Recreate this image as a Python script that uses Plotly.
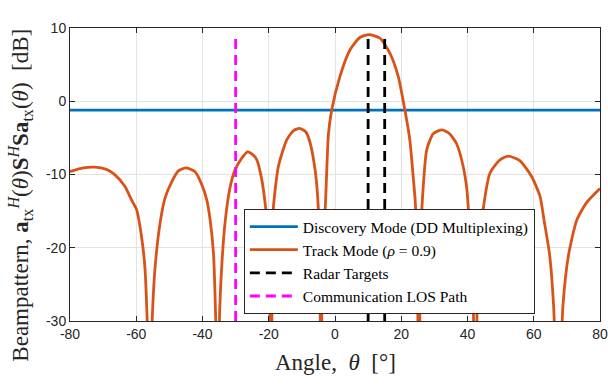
import plotly.graph_objects as go

# ---------------- data ----------------
discovery_angle = [-80, 80]
discovery_db = [-1.2, -1.2]

track_angle = [-80, -76, -72.5, -69, -66.4, -63.4, -61.4, -59.9, -58.4, -57.4, -56.7, -56.0, -55.2,
               -54.3, -52.8, -51.3, -49.3, -47.3, -45.0, -42.3, -40.2, -38.7, -37.7, -36.7, -36.0,
               -35.4, -34.9, -34.2, -33.2, -31.7, -30.2, -28.2, -26.4, -24.8, -23.6, -22.1, -21.1,
               -20.4, -19.8, -19.3, -18.9, -18.6, -17.1, -14.6, -12.5, -10.7, -8.8, -7.5, -6.0,
               -5.3, -4.7, -4.2, -3.7, -3.0, -2.0, -1.0, 1.5, 4.5, 7.5, 10.2, 13.6, 16.6, 19.1,
               21.1, 22.6, 23.6, 24.2, 24.8, 25.3, 25.8, 26.2, 27.7, 29.7, 32.3, 34.5, 36.7, 38.7,
               39.8, 40.5, 41.5, 42.3, 43.2, 44.3, 46.8, 49.8, 52.3, 55.8, 59.4, 61.9, 63.1, 64.8,
               66.0, 67.4, 68.8, 70.5, 73.0, 76.0, 80]
track_db = [-9.6, -9.1, -9.0, -9.3, -10.05, -11.65, -13.5, -14.8, -18.5, -22.6, -30, -45, -30,
            -22.6, -16.6, -13.2, -11.0, -9.5, -9.1, -9.6, -11.4, -13.5, -16.2, -20.7, -30,
            -45, -30, -22.6, -16.6, -11.8, -9.4, -7.8, -6.9, -7.3, -8.0, -10.7, -13.9,
            -17.1, -22, -45, -20, -14.5, -8.9, -5.3, -4.0, -3.7, -4.2, -5.7, -9.4,
            -12.6, -18, -45, -18, -15, -4.6, -1.2, 3.4, 7.0, 8.7, 9.1, 8.6, 6.55, 3.36,
            -1.2, -5.3, -10.3, -13.5, -20, -45, -20, -14.8, -6.6, -4.4, -3.9, -4.4, -5.8, -8.9,
            -12.0, -16.2, -22, -45, -22, -16.2, -9.8, -8.0, -7.5, -8.1, -10.3, -13.0, -16.2, -21,
            -28, -45, -28, -21, -16.2, -13.8, -11.9]

target_angles = [10, 15]
los_angle = -30
marker_line_bottom = -30
marker_line_top = 8.6

x_ticks = [-80, -60, -40, -20, 0, 20, 40, 60, 80]
y_ticks = [-30, -20, -10, 0, 10]

# ---------------- styling ----------------
BLUE = "#0072BD"
ORANGE = "#D95319"
MAGENTA = "#FF00FF"
AX = "#262626"
GRID = "#e3e3e3"
SERIF = "Liberation Serif, Times New Roman, serif"
SANS = "Liberation Sans, Arial, sans-serif"
LW = 2.8
NB = "\u00a0"

fig = go.Figure()

fig.add_trace(go.Scatter(x=discovery_angle, y=discovery_db, mode="lines",
                         line=dict(color=BLUE, width=LW),
                         name="Discovery Mode (DD Multiplexing)"))
fig.add_trace(go.Scatter(x=track_angle, y=track_db, mode="lines",
                         line=dict(color=ORANGE, width=LW, shape="spline", smoothing=0.6),
                         name="Track Mode (<i>ρ</i> = 0.9)"))

tx, ty = [], []
for a in target_angles:
    tx += [a, a, None]
    ty += [marker_line_bottom, marker_line_top, None]
fig.add_trace(go.Scatter(x=tx, y=ty, mode="lines",
                         line=dict(color="black", width=LW, dash="10px,6px"),
                         name="Radar Targets"))
fig.add_trace(go.Scatter(x=[los_angle, los_angle], y=[marker_line_bottom, marker_line_top],
                         mode="lines",
                         line=dict(color=MAGENTA, width=LW, dash="10px,6px"),
                         name="Communication LOS Path"))

axis_common = dict(showline=True, linecolor=AX, linewidth=1, mirror="allticks",
                   ticks="inside", ticklen=5, tickcolor=AX, showgrid=True, gridcolor=GRID,
                   gridwidth=1, zeroline=False, automargin=False,
                   tickfont=dict(family=SANS, size=14, color=AX))

fig.update_xaxes(range=[-80, 80], tickvals=x_ticks, ticktext=[str(v) for v in x_ticks], **axis_common)
fig.update_yaxes(range=[-30, 10], tickvals=y_ticks, ticktext=[str(v) for v in y_ticks], **axis_common)

fig.update_layout(
    width=608, height=386,
    margin=dict(l=70, r=8, t=28, b=65),
    plot_bgcolor="white", paper_bgcolor="white",
    showlegend=True,
    legend=dict(x=0.328, y=0.024, xanchor="left", yanchor="bottom",
                bgcolor="white", bordercolor=AX, borderwidth=1,
                font=dict(family=SERIF, size=15.5, color="black"),
                tracegroupgap=0, itemwidth=48),
    annotations=[
        dict(text=f"Angle,{NB}{NB}<i>θ</i>{NB}{NB}[°]", xref="paper", yref="paper", x=0.5, y=-0.14,
             xanchor="center", yanchor="middle", showarrow=False,
             font=dict(family=SERIF, size=23, color=AX)),
        dict(text="Beampattern, <b>a</b><sub>tx</sub><sup><i>H</i></sup>(<i>θ</i>)<b>S</b><sup><i>H</i></sup><b>Sa</b><sub>tx</sub>(<i>θ</i>)" + NB + NB + "[dB]",
             xref="paper", yref="paper", x=-0.095, y=0.43, textangle=-90,
             xanchor="center", yanchor="middle", showarrow=False,
             font=dict(family=SERIF, size=23, color=AX)),
    ],
)

fig.write_html("out.html")
